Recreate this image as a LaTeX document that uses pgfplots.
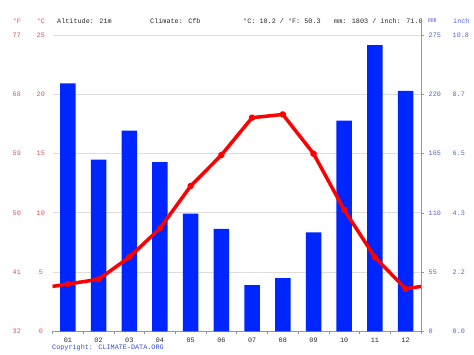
\documentclass[border=0pt]{standalone}
\usepackage{fontspec}
\setmainfont{Liberation Mono}
\usepackage{pgfplots}
\pgfplotsset{compat=1.18}
\definecolor{barblue}{RGB}{0,38,255}
\definecolor{tred}{RGB}{228,82,84}
\definecolor{tblue}{RGB}{84,100,215}
\definecolor{cblue}{RGB}{50,80,210}
\definecolor{txt}{RGB}{40,40,40}
\definecolor{gridc}{RGB}{222,222,222}
\definecolor{axc}{RGB}{150,150,150}
\begin{document}
\begin{tikzpicture}[font=\fontsize{6.8}{8}\selectfont]
\path[use as bounding box, fill=white] (0,0) rectangle (474pt,355pt);
% header
\node[tred, anchor=center] at (17pt,334pt) {°F};
\node[tred, anchor=center] at (41pt,334pt) {°C};
\node[txt, anchor=west, inner sep=0pt] at (57pt,334pt) {Altitude: 21m};
\node[txt, anchor=west, inner sep=0pt] at (150pt,334pt) {Climate: Cfb};
\node[txt, anchor=west, inner sep=0pt] at (243pt,334pt) {°C: 10.2 / °F: 50.3};
\node[txt, anchor=west, inner sep=0pt] at (334pt,334pt) {mm: 1803 / inch: 71.0};
\node[tblue, anchor=west, inner sep=0pt] at (428pt,334pt) {mm};
\node[tblue, anchor=west, inner sep=0pt] at (453pt,334pt) {inch};
\node[cblue, anchor=west, inner sep=0pt] at (52pt,7pt) {Copyright: CLIMATE-DATA.ORG};
% precipitation axis
\begin{axis}[
  at={(52.5pt,23.5pt)}, anchor=south west, scale only axis,
  width=368.5pt, height=296.5pt,
  xmin=0.5, xmax=12.5, ymin=0, ymax=275,
  axis y line*=right, axis x line*=bottom,
  axis line style={draw=axc, line width=0.8pt},
  y axis line style={shorten >=-12pt},
  xtick={1,...,12},
  xticklabels={01,02,03,04,05,06,07,08,09,10,11,12},
  minor xtick={0.5,1.5,...,12.5},
  ytick={0,55,110,165,220,275},
  yticklabels={
    {\makebox[24pt][l]{0}\makebox[20pt][l]{0.0}},
    {\makebox[24pt][l]{55}\makebox[20pt][l]{2.2}},
    {\makebox[24pt][l]{110}\makebox[20pt][l]{4.3}},
    {\makebox[24pt][l]{165}\makebox[20pt][l]{6.5}},
    {\makebox[24pt][l]{220}\makebox[20pt][l]{8.7}},
    {\makebox[24pt][l]{275}\makebox[20pt][l]{10.8}}},
  yticklabel style={tblue, anchor=west, inner sep=0pt, xshift=4.5pt},
  xticklabel style={txt, anchor=north, inner sep=0pt, yshift=-3pt},
  tick align=outside,
  x tick style={draw=none},
  minor x tick style={draw=axc, line width=0.6pt},
  minor tick length=3pt,
  y tick style={draw=axc, line width=0.6pt},
  major tick length=3pt,
  ymajorgrids, grid style={draw=gridc, line width=0.8pt},
  axis on top=false,
  clip=false,
]
\addplot[ybar, bar width=15.5pt, fill=barblue, draw=none] coordinates {
  (1,230.2) (2,159.4) (3,186.3) (4,157.0) (5,109.3) (6,95.1)
  (7,42.9) (8,49.4) (9,92.0) (10,195.6) (11,265.5) (12,223.1)};
\end{axis}
% temperature axis
\begin{axis}[
  at={(52.5pt,23.5pt)}, anchor=south west, scale only axis,
  width=368.5pt, height=296.5pt,
  xmin=0.5, xmax=12.5, ymin=0, ymax=25,
  axis x line=none,
  axis y line*=left,
  y axis line style={draw=none},
  ytick={0,5,10,15,20,25},
  yticklabels={
    {\makebox[28pt][c]{32}\makebox[20pt][c]{0}},
    {\makebox[28pt][c]{41}\makebox[20pt][c]{5}},
    {\makebox[28pt][c]{50}\makebox[20pt][c]{10}},
    {\makebox[28pt][c]{59}\makebox[20pt][c]{15}},
    {\makebox[28pt][c]{68}\makebox[20pt][c]{20}},
    {\makebox[28pt][c]{77}\makebox[20pt][c]{25}}},
  yticklabel style={tred, anchor=east, inner sep=0pt, xshift=-1.5pt},
  major tick length=0pt,
  clip=false,
]
\addplot[red, line width=3.5pt, line join=round,
  mark=*, mark indices={2,...,13}, mark size=1.8pt,
  mark options={fill=red!80!black, draw=none}] coordinates {
  (0.5,3.8) (1,4.0) (2,4.4) (3,6.26) (4,8.7) (5,12.27) (6,14.88)
  (7,18.03) (8,18.3) (9,15.0) (10,10.25) (11,6.26) (12,3.6) (12.5,3.8)};
\end{axis}
\end{tikzpicture}
\end{document}
